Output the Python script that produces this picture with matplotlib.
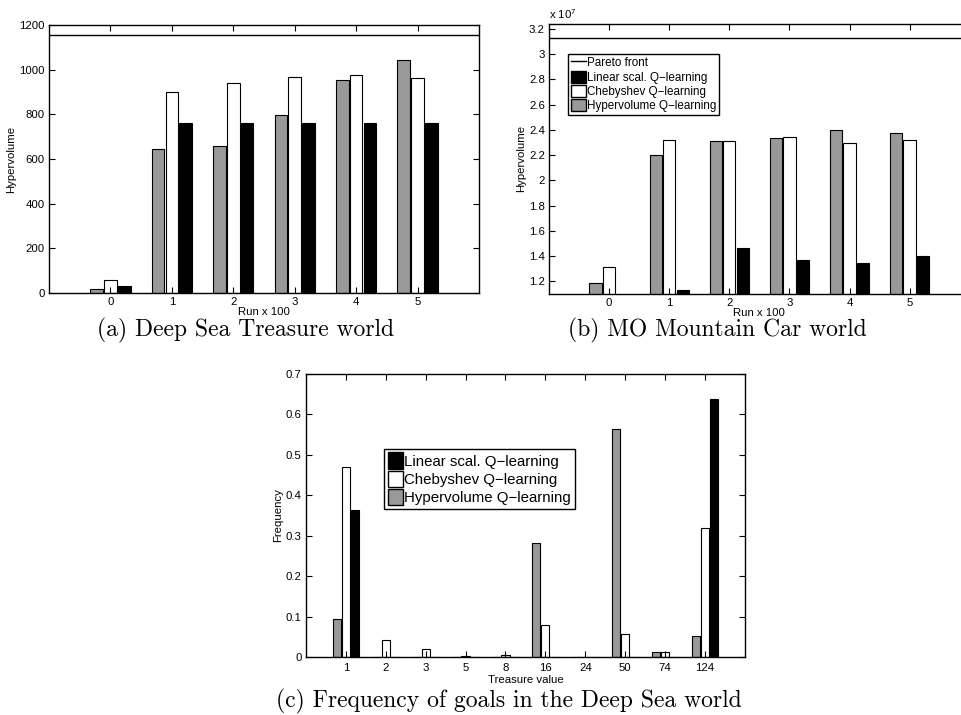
import numpy as np
import matplotlib.pyplot as plt
from matplotlib.lines import Line2D
from matplotlib.patches import Patch
from matplotlib.ticker import FormatStrFormatter

plt.rcParams['font.family'] = ['Liberation Sans', 'DejaVu Sans']
plt.rcParams['mathtext.default'] = 'regular'

# --- Data ---
runs = [0, 1, 2, 3, 4, 5]

# (a) Deep Sea Treasure world
dst_pareto = 1157
dst_hyper = [19, 643, 660, 797, 952, 1042]
dst_cheby = [57, 900, 939, 968, 976, 961]
dst_linear = [34, 763, 763, 763, 763, 763]

# (b) MO Mountain Car world (x 1e7)
mc_pareto = 3.126
mc_hyper = [1.19, 2.204, 2.310, 2.334, 2.401, 2.376]
mc_cheby = [1.309, 2.323, 2.315, 2.342, 2.294, 2.318]
mc_linear = [1.05, 1.128, 1.465, 1.367, 1.348, 1.399]

# (c) Frequency of goals
treasures = ['1', '2', '3', '5', '8', '16', '24', '50', '74', '124']
freq_hyper = [0.094, 0.001, 0.001, 0.001, 0.001, 0.283, 0.001, 0.563, 0.013, 0.051]
freq_cheby = [0.471, 0.041, 0.021, 0.002, 0.006, 0.078, 0.0, 0.056, 0.012, 0.320]
freq_linear = [0.364, 0.0, 0.0, 0.0, 0.0, 0.0, 0.0, 0.0, 0.0, 0.637]

GRAY = '#999999'
off, w = 0.225, 0.205
tick_fs = 8.2
cap_font = dict(family='cmr10', fontsize=17)


def style_axes(ax):
    ax.tick_params(direction='in', top=True, right=True, length=4,
                   width=0.8, labelsize=tick_fs, pad=3)
    for s in ax.spines.values():
        s.set_linewidth(1.0)


def grouped_bars(ax, x, hyper, cheby, linear):
    x = np.asarray(x, dtype=float)
    ax.bar(x - off, hyper, w, color=GRAY, edgecolor='black', linewidth=0.8)
    ax.bar(x, cheby, w, color='white', edgecolor='black', linewidth=0.8)
    ax.bar(x + off, linear, w, color='black', edgecolor='black', linewidth=0.8)


def legend_handles(with_pareto):
    h = []
    if with_pareto:
        h.append(Line2D([], [], color='black', lw=1.0, label='Pareto front'))
    h += [Patch(facecolor='black', edgecolor='black', label='Linear scal. Q\u2212learning'),
          Patch(facecolor='white', edgecolor='black', label='Chebyshev Q\u2212learning'),
          Patch(facecolor=GRAY, edgecolor='black', label='Hypervolume Q\u2212learning')]
    return h


fig = plt.figure(figsize=(9.62, 7.15), dpi=100)

# --- (a) ---
ax1 = fig.add_axes([0.0509, 0.590, 0.447, 0.375])
grouped_bars(ax1, runs, dst_hyper, dst_cheby, dst_linear)
ax1.axhline(dst_pareto, color='black', lw=1.0)
ax1.set_xlim(-1, 6)
ax1.set_ylim(0, 1200)
ax1.set_xticks(runs)
ax1.set_yticks(np.arange(0, 1201, 200))
ax1.set_xlabel('Run x 100', fontsize=tick_fs, labelpad=0)
ax1.set_ylabel('Hypervolume', fontsize=tick_fs, labelpad=2)
style_axes(ax1)

# --- (b) ---
ax2 = fig.add_axes([0.5707, 0.589, 0.4373, 0.3776])
grouped_bars(ax2, runs, mc_hyper, mc_cheby, mc_linear)
ax2.axhline(mc_pareto, color='black', lw=1.0)
ax2.set_xlim(-1, 6)
ax2.set_ylim(1.1, 3.24)
ax2.set_xticks(runs)
ax2.set_yticks(np.arange(1.2, 3.21, 0.2))
ax2.yaxis.set_major_formatter(FormatStrFormatter('%g'))
ax2.set_xlabel('Run x 100', fontsize=tick_fs, labelpad=0)
ax2.set_ylabel('Hypervolume', fontsize=tick_fs, labelpad=2)
ax2.text(0.0, 1.012, r'x 10$^{7}$', transform=ax2.transAxes,
         fontsize=tick_fs, ha='left', va='bottom')
style_axes(ax2)
ax2.legend(handles=legend_handles(True), loc='upper left',
           bbox_to_anchor=(0.045, 0.89), fontsize=8.4, frameon=True,
           fancybox=False, edgecolor='black', framealpha=1,
           handlelength=1.3, handleheight=1.2, handletextpad=0.1,
           labelspacing=0.12, borderpad=0.25, borderaxespad=0)

# --- (c) ---
ax3 = fig.add_axes([0.318, 0.0811, 0.4563, 0.3958])
pos = np.arange(1, len(treasures) + 1)
grouped_bars(ax3, pos, freq_hyper, freq_cheby, freq_linear)
ax3.set_xlim(0, 11)
ax3.set_ylim(0, 0.7)
ax3.set_xticks(pos)
ax3.set_xticklabels(treasures)
ax3.set_yticks(np.arange(0, 0.71, 0.1))
ax3.yaxis.set_major_formatter(FormatStrFormatter('%g'))
ax3.set_xlabel('Treasure value', fontsize=tick_fs, labelpad=2)
ax3.set_ylabel('Frequency', fontsize=tick_fs, labelpad=2)
style_axes(ax3)
ax3.tick_params(axis='x', pad=4)
ax3.legend(handles=legend_handles(False), loc='upper left',
           bbox_to_anchor=(0.178, 0.736), fontsize=10.8, frameon=True,
           fancybox=False, edgecolor='black', framealpha=1,
           handlelength=1.0, handleheight=1.3, handletextpad=0.1,
           labelspacing=0.12, borderpad=0.25, borderaxespad=0)

# --- captions ---
fig.text(246 / 962, 1 - 336 / 715, '(a) Deep Sea Treasure world',
         ha='center', va='baseline', **cap_font)
fig.text(717 / 962, 1 - 336 / 715, '(b) MO Mountain Car world',
         ha='center', va='baseline', **cap_font)
fig.text(509 / 962, 1 - 707 / 715, '(c) Frequency of goals in the Deep Sea world',
         ha='center', va='baseline', **cap_font)

fig.savefig('out.png', dpi=100)
